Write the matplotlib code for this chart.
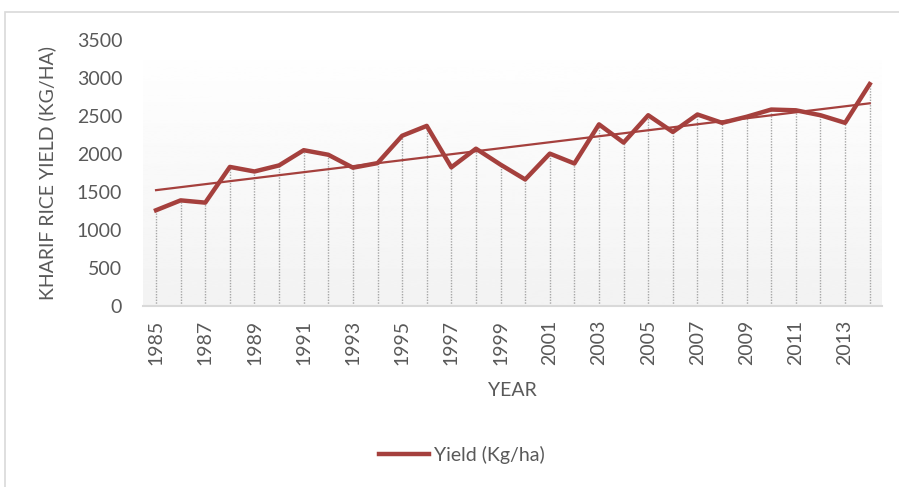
import numpy as np
import matplotlib
matplotlib.use("Agg")
import matplotlib.pyplot as plt
from matplotlib.patches import Rectangle

years = list(range(1985, 2015))
yield_kg = [1260, 1390, 1360, 1830, 1770, 1850, 2050, 1990, 1820, 1880,
            2240, 2370, 1825, 2070, 1860, 1665, 2005, 1875, 2390, 2150,
            2510, 2290, 2520, 2410, 2490, 2585, 2575, 2510, 2410, 2920]
tick_years = years[::2]
y_ticks = [0, 500, 1000, 1500, 2000, 2500, 3000, 3500]

line_col = "#a5403d"
text_col = "#595959"
plt.rcParams['font.family'] = ['Lato', 'DejaVu Sans']
fs = 14

fig = plt.figure(figsize=(8.99, 4.87), dpi=100)
ax = fig.add_axes([143/899, 1 - 306/487, (882-143)/899, (306-40)/487])

# outer chart border (cut off on right and bottom in the reference)
fig.patches.append(Rectangle((5/899, -0.1), 1.0, (487-12)/487 + 0.1, transform=fig.transFigure,
                             fill=False, edgecolor="#d9d9d9", linewidth=1.2))

x0, x1 = years[0] - 0.53, years[-1] + 0.5
# gradient fill of plot area
grad = np.linspace(0.95, 1.0, 256).reshape(-1, 1)
ax.imshow(grad, extent=[x0, x1, 0, 3500], origin="lower", cmap="gray", vmin=0, vmax=1,
          aspect="auto", zorder=0)

ax.vlines(years, 0, yield_kg, colors="#a6a6a6", linestyles=(0, (1, 1)), linewidth=1.0, zorder=1)

coef = np.polyfit(years, yield_kg, 1)
trend = np.polyval(coef, years)
ax.plot(years, trend, color=line_col, linewidth=1.6, zorder=2)
ax.plot(years, yield_kg, color=line_col, linewidth=3.2, solid_joinstyle="round",
        label="Yield (Kg/ha)", zorder=3)

ax.set_xlim(x0, x1)
ax.set_ylim(0, 3500)
ax.set_yticks(y_ticks)
ax.set_xticks(tick_years)
ax.set_xticklabels([str(y) for y in tick_years], rotation=90)
ax.tick_params(axis="both", length=0, labelsize=fs, colors=text_col)
ax.tick_params(axis="y", pad=15)
ax.tick_params(axis="x", pad=10)
for s in ["top", "right", "left"]:
    ax.spines[s].set_visible(False)
ax.spines["bottom"].set_color("#d9d9d9")
ax.spines["bottom"].set_linewidth(1.5)

fig.text(512/899, 1 - 390/487, "YEAR", ha="center", va="center", fontsize=fs, color=text_col)
fig.text(47/899, 1 - 173/487, "KHARIF RICE YIELD (KG/HA)", ha="center", va="center",
         rotation=90, fontsize=fs, color=text_col)

fig.legend(loc="center", bbox_to_anchor=(462/899, 1 - 455/487), frameon=False,
           fontsize=fs, labelcolor=text_col, handlelength=2.6, handletextpad=0.25)

fig.savefig("out.png", dpi=100)
